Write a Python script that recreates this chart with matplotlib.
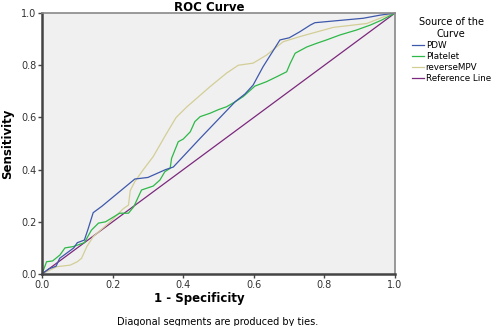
import matplotlib
matplotlib.use('Agg')
import matplotlib.pyplot as plt
from matplotlib.lines import Line2D

# ROC curves
pdwX = [0.0, 0.02, 0.04, 0.05, 0.07, 0.09, 0.10, 0.12, 0.13, 0.145, 0.17, 0.263, 0.30, 0.35, 0.372,
        0.448, 0.547, 0.575, 0.598, 0.626, 0.674, 0.70, 0.73, 0.76, 0.773, 0.91, 0.958, 1.0]
pdwY = [0.0, 0.02, 0.03, 0.06, 0.08, 0.10, 0.12, 0.13, 0.17, 0.235, 0.26, 0.364, 0.37, 0.40, 0.41,
        0.52, 0.66, 0.69, 0.724, 0.794, 0.897, 0.905, 0.928, 0.954, 0.963, 0.98, 0.992, 1.0]

plateletX = [0.0, 0.013, 0.03, 0.051, 0.065, 0.088, 0.12, 0.14, 0.16, 0.18, 0.22, 0.245, 0.26, 0.273,
             0.282, 0.315, 0.334, 0.348, 0.363, 0.367, 0.386, 0.40, 0.42, 0.433, 0.448, 0.476, 0.50,
             0.523, 0.547, 0.57, 0.603, 0.636, 0.665, 0.693, 0.703, 0.717, 0.75, 0.778, 0.806, 0.844,
             0.891, 0.93, 0.962, 1.0]
plateletY = [0.0, 0.047, 0.05, 0.073, 0.10, 0.105, 0.12, 0.168, 0.195, 0.20, 0.233, 0.233, 0.258, 0.296,
             0.322, 0.337, 0.36, 0.392, 0.405, 0.443, 0.507, 0.517, 0.545, 0.584, 0.603, 0.616, 0.63,
             0.641, 0.66, 0.68, 0.72, 0.737, 0.756, 0.775, 0.807, 0.846, 0.87, 0.884, 0.897, 0.916,
             0.935, 0.954, 0.973, 1.0]

mpvX = [0.0, 0.042, 0.08, 0.10, 0.112, 0.127, 0.145, 0.193, 0.23, 0.245, 0.25, 0.263, 0.287, 0.315,
        0.353, 0.38, 0.41, 0.476, 0.523, 0.556, 0.598, 0.636, 0.683, 0.731, 0.825, 0.92, 0.976, 1.0]
mpvY = [0.0, 0.028, 0.034, 0.047, 0.06, 0.105, 0.143, 0.20, 0.25, 0.264, 0.32, 0.354, 0.40, 0.45,
        0.539, 0.60, 0.64, 0.718, 0.77, 0.80, 0.808, 0.839, 0.89, 0.91, 0.945, 0.96, 0.99, 1.0]

refX = [0.0, 1.0]
refY = [0.0, 1.0]

names = ['PDW', 'Platelet', 'reverseMPV', 'Reference Line']
colors = ['#3e58ac', '#2eb848', '#d3ce97', '#7c287d']

fig = plt.figure(figsize=(4.98, 3.26), dpi=100)
ax = fig.add_axes([0.0843, 0.1595, 0.709, 0.8005])
ax.set_facecolor('#f0f0f0')

ax.plot(refX, refY, color=colors[3], lw=0.9)
ax.plot(mpvX, mpvY, color=colors[2], lw=0.9)
ax.plot(plateletX, plateletY, color=colors[1], lw=0.9)
ax.plot(pdwX, pdwY, color=colors[0], lw=0.9)

ax.set_xlim(0, 1)
ax.set_ylim(0, 1)
ticks = [0.0, 0.2, 0.4, 0.6, 0.8, 1.0]
ax.set_xticks(ticks)
ax.set_yticks(ticks)
ax.set_xticklabels(['0.0', '0.2', '0.4', '0.6', '0.8', '1.0'])
ax.set_yticklabels(['0.0', '0.2', '0.4', '0.6', '0.8', '1.0'])
ax.tick_params(labelsize=7, length=3, width=1, color='#444444', labelcolor='#333333', pad=1)

for side in ['left', 'bottom']:
    ax.spines[side].set_linewidth(1.8)
    ax.spines[side].set_color('#444444')
for side in ['top', 'right']:
    ax.spines[side].set_linewidth(1.2)
    ax.spines[side].set_color('#888888')

fig.text(0.42, 0.977, 'ROC Curve', ha='center', va='center', fontsize=8.5, fontweight='bold')
fig.text(0.016, 0.56, 'Sensitivity', rotation=90, ha='center', va='center', fontsize=8.5, fontweight='bold')
fig.text(0.4, 0.083, '1 - Specificity', ha='center', va='center', fontsize=8.5, fontweight='bold')
fig.text(0.438, 0.012, 'Diagonal segments are produced by ties.', ha='center', va='center', fontsize=7)

handles = [Line2D([0], [0], color=c, lw=0.9) for c in colors]
leg = fig.legend(handles, names, title='Source of the\nCurve', loc='upper left',
                 bbox_to_anchor=(0.818, 0.96), frameon=False, fontsize=6.3, title_fontsize=7,
                 handlelength=1.4, handletextpad=0.2, labelspacing=0.22, borderpad=0)
leg.get_title().set_multialignment('center')

fig.savefig('out.png', dpi=100)
